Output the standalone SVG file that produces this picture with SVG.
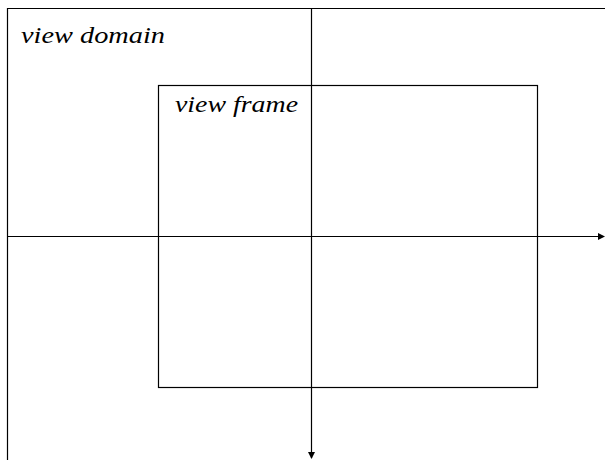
<svg xmlns="http://www.w3.org/2000/svg" width="605" height="460" viewBox="0 0 605 460">
<defs>
<style>
.ln{stroke:#000;stroke-width:1.2;fill:none}
.lbl{font-family:"Liberation Serif","Times New Roman",serif;font-style:italic;font-size:23px;fill:#000}
</style>
<marker id="ah" markerWidth="7" markerHeight="7" refX="6" refY="3.5" orient="auto" markerUnits="userSpaceOnUse">
<path d="M0,0 L7,3.5 L0,7 z" fill="#000"/>
</marker>
</defs>
<rect width="605" height="460" fill="#fff"/>
<g id="view-domain">
<path class="ln" d="M7.5,460 V8.5 H605"/>
<text class="lbl" x="21" y="43" textLength="144" lengthAdjust="spacingAndGlyphs">view domain</text>
</g>
<g id="view-frame">
<rect class="ln" x="158.5" y="85.5" width="379" height="302"/>
<text class="lbl" x="175" y="112" textLength="123" lengthAdjust="spacingAndGlyphs">view frame</text>
</g>
<g id="connectors">
<line class="ln" x1="7" y1="236.5" x2="604" y2="236.5" marker-end="url(#ah)"/>
<line class="ln" x1="311.5" y1="8" x2="311.5" y2="458" marker-end="url(#ah)"/>
</g>
</svg>
